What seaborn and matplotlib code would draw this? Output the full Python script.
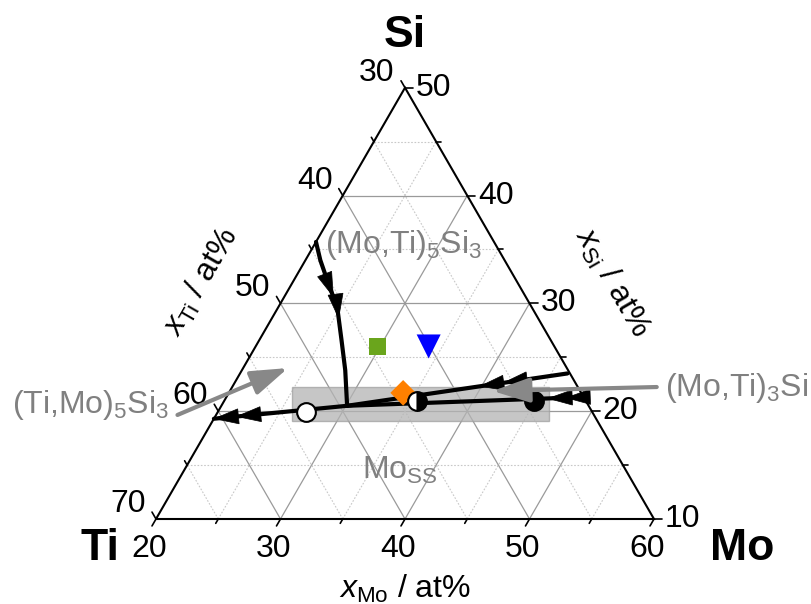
import numpy as np
import matplotlib
matplotlib.use("Agg")
import matplotlib.pyplot as plt
import seaborn as sns
import pandas as pd
from matplotlib.patches import Rectangle, Polygon

# Section of the Mo-Si-Ti system: corners (x_Mo, x_Si) = (20, 10), (60, 10), (20, 50)
MO0, SI0, SPAN = 20.0, 10.0, 40.0

mo_labels = [20, 30, 40, 50, 60]
si_labels = [10, 20, 30, 40, 50]
ti_labels = [30, 40, 50, 60, 70]

# Monovariant lines (x_Mo, x_Si in at%)
trough_mo = [20.0, 21.2, 23.2, 24.7, 26.6, 28.3, 30.1]
trough_si = [35.7, 34.0, 31.5, 29.7, 26.6, 23.8, 20.5]
left_mo = [30.1, 20.0]
left_si = [20.5, 19.3]
upper_mo = [46.3, 30.1]
upper_si = [23.5, 20.5]
lower_mo = [48.6, 30.1]
lower_si = [21.3, 20.5]

# Alloy compositions
alloy_mo = [29.8, 33.9, 34.0]
alloy_si = [26.0, 26.0, 21.7]
alloy_marker = ["s", "v", "D"]
alloy_color = ["#6aa51c", "#0000ff", "#ff8000"]
alloy_size = [160, 300, 170]

# Invariant / phase compositions
open_pt = (27.1, 19.9)
half_pt = (35.5, 20.9)
solid_pt = (44.9, 20.9)

# Shaded Mo_SS band (lower-left and upper-right corner compositions)
band_lo = (26.4, 19.1)
band_hi = (45.5, 22.2)

PX = 12.45  # pixels per at%
W, H = 811, 604
ORIGIN = (156, 519)

sns.set_theme(style="white")
plt.rcParams["font.family"] = ["Liberation Sans", "DejaVu Sans"]
plt.rcParams["text.color"] = "black"
plt.rcParams["mathtext.fontset"] = "custom"
plt.rcParams["mathtext.rm"] = "Liberation Sans"
plt.rcParams["mathtext.it"] = "Liberation Sans:italic"
plt.rcParams["mathtext.bf"] = "Liberation Sans:bold"

S3 = np.sqrt(3) / 2
PT = 0.72  # points per pixel


def cart(mo, si):
    mo = np.asarray(mo, float)
    si = np.asarray(si, float)
    return (mo - MO0) + (si - SI0) / 2, (si - SI0) * S3


fig = plt.figure(figsize=(W / 100, H / 100), dpi=100)
ax = fig.add_axes([0, 0, 1, 1])
ax.set_xlim(-ORIGIN[0] / PX, (W - ORIGIN[0]) / PX)
ax.set_ylim(-(H - ORIGIN[1]) / PX, ORIGIN[1] / PX)
ax.set_aspect("equal")
ax.axis("off")

# grid lines
for v in np.arange(5, 40, 5):
    major = v % 10 == 0
    kw = dict(color="#9a9a9a", lw=0.9, ls="-") if major else dict(color="#c8c8c8", lw=0.8, ls=(0, (1.5, 1.5)))
    mo = MO0 + v
    x, y = cart([mo, mo], [SI0, SI0 + SPAN - v])
    ax.plot(x, y, zorder=1, **kw)
    si = SI0 + v
    x, y = cart([MO0, MO0 + SPAN - v], [si, si])
    ax.plot(x, y, zorder=1, **kw)
    x, y = cart([MO0 + SPAN - v, MO0], [SI0, SI0 + SPAN - v])
    ax.plot(x, y, zorder=1, **kw)

# triangle frame
fx, fy = cart([MO0, MO0 + SPAN, MO0, MO0], [SI0, SI0, SI0 + SPAN, SI0])
ax.plot(fx, fy, color="black", lw=1.5, zorder=3, solid_joinstyle="miter")

# ticks
tick_dirs = {
    "mo": np.array([-0.5, -S3]),
    "si": np.array([1.0, 0.0]),
    "ti": np.array([-0.5, S3]),
}
for v in np.arange(0, 41, 5):
    ln = (8 if v % 10 == 0 else 5) / PX
    for key, p in (("mo", cart(MO0 + v, SI0)),
                   ("si", cart(MO0 + SPAN - v, SI0 + v)),
                   ("ti", cart(MO0, SI0 + SPAN - v))):
        d = tick_dirs[key]
        ax.plot([p[0], p[0] + d[0] * ln], [p[1], p[1] + d[1] * ln], color="black", lw=1.2, zorder=3)

TFS = 23
for v in mo_labels:
    ax.annotate(str(v), cart(v, SI0), xytext=(-7 * PT, -30 * PT), textcoords="offset points",
                ha="center", va="center", fontsize=TFS)
for v in si_labels:
    ax.annotate(str(v), cart(MO0 + SPAN - (v - SI0), v), xytext=(11 * PT, 0), textcoords="offset points",
                ha="left", va="center", fontsize=TFS)
for v in ti_labels:
    si = 100 - v - MO0
    ax.annotate(str(v), cart(MO0, si), xytext=(-28 * PT, 15 * PT), textcoords="offset points",
                ha="center", va="center", fontsize=TFS)

# axis titles
ax.annotate(r"$x_\mathrm{Mo}$ / at%", cart(MO0 + SPAN / 2, SI0), xytext=(0, -70 * PT),
            textcoords="offset points", ha="center", va="center", fontsize=TFS)
ax.annotate(r"$x_\mathrm{Ti}$ / at%", cart(MO0, SI0 + SPAN / 2 + 2), xytext=(-92 * PT, 0),
            textcoords="offset points", ha="center", va="center", fontsize=TFS, rotation=60)
ax.annotate(r"$x_\mathrm{Si}$ / at%", cart(MO0 + SPAN / 2 - 2, SI0 + SPAN / 2 + 2), xytext=(95 * PT, 0),
            textcoords="offset points", ha="center", va="center", fontsize=TFS, rotation=-60)

# corner labels
VFS = 32
ax.annotate("Ti", cart(MO0, SI0), xytext=(-56 * PT, -29 * PT), textcoords="offset points",
            ha="center", va="center", fontsize=VFS, fontweight="bold")
ax.annotate("Mo", cart(MO0 + SPAN, SI0), xytext=(88 * PT, -29 * PT), textcoords="offset points",
            ha="center", va="center", fontsize=VFS, fontweight="bold")
ax.annotate("Si", cart(MO0, SI0 + SPAN), xytext=(0, 52 * PT), textcoords="offset points",
            ha="center", va="center", fontsize=VFS, fontweight="bold")

# shaded band
bx0, by0 = (float(c) for c in cart(*band_lo))
bx1, by1 = (float(c) for c in cart(*band_hi))
ax.add_patch(Rectangle((bx0, by0), bx1 - bx0, by1 - by0, facecolor="#b4b4b4", alpha=0.75,
                       edgecolor="#a0a0a0", lw=1, zorder=2))

# monovariant lines with direction arrowheads
lines = [(trough_mo, trough_si, [4.6, 6.4]),
         (left_mo, left_si, [8.9, 10.7]),
         (upper_mo, upper_si, [5.2, 7.1]),
         (lower_mo, lower_si, [1.3, 2.75])]
HEAD_L, HEAD_W = 24 / PX, 15 / PX
for mo, si, heads in lines:
    x, y = cart(mo, si)
    df = pd.DataFrame({"x": x, "y": y})
    sns.lineplot(data=df, x="x", y="y", sort=False, estimator=None, color="black", lw=3,
                 ax=ax, zorder=5)
    seg = np.hypot(np.diff(x), np.diff(y))
    cum = np.concatenate([[0], np.cumsum(seg)])
    for d in heads:
        i = int(np.clip(np.searchsorted(cum, d) - 1, 0, len(seg) - 1))
        t = (d - cum[i]) / seg[i]
        tip = np.array([x[i] + t * (x[i + 1] - x[i]), y[i] + t * (y[i + 1] - y[i])])
        u = np.array([x[i + 1] - x[i], y[i + 1] - y[i]]) / seg[i]
        n = np.array([-u[1], u[0]])
        base = tip - u * HEAD_L
        tri = [tip, base + n * HEAD_W / 2, base - n * HEAD_W / 2]
        ax.add_patch(Polygon(tri, closed=True, facecolor="black", edgecolor="black", lw=0.5, zorder=6))

# alloy markers
ax_, ay_ = cart(alloy_mo, alloy_si)
adf = pd.DataFrame({"x": ax_, "y": ay_, "k": ["a", "b", "c"]})
sns.scatterplot(data=adf, x="x", y="y", hue="k", style="k", size="k",
                markers=dict(zip("abc", alloy_marker)), palette=dict(zip("abc", alloy_color)),
                sizes=dict(zip("abc", alloy_size)), linewidth=0, legend=False, ax=ax, zorder=7)

# phase compositions
px_, py_ = cart(*open_pt)
ax.plot(px_, py_, "o", ms=13.5, mfc="white", mec="black", mew=1.5, zorder=8)
px_, py_ = cart(*half_pt)
ax.plot(px_, py_, "o", ms=13.5, fillstyle="right", mfc="black", mfcalt="white", mec="black", mew=1.5, zorder=8)
px_, py_ = cart(*solid_pt)
ax.plot(px_, py_, "o", ms=13.5, mfc="black", mec="black", mew=1.5, zorder=8)

# phase labels
GRAY = "#808080"
PFS = 23
ax.text(*cart(20.9, 35.4), r"(Mo,Ti)$_5$Si$_3$", color=GRAY, fontsize=PFS, ha="left", va="center", zorder=9)
ax.text(*cart(3.1, 20.6), r"(Ti,Mo)$_5$Si$_3$", color=GRAY, fontsize=PFS, ha="left", va="center", zorder=9)
ax.text(*cart(54.8, 22.15), r"(Mo,Ti)$_3$Si", color=GRAY, fontsize=PFS, ha="left", va="center", zorder=9)
ax.text(*cart(34.3, 14.5), r"Mo$_\mathrm{SS}$", color=GRAY, fontsize=PFS, ha="left", va="center", zorder=9)

arrow_kw = dict(arrowstyle="-|>,head_length=0.9,head_width=0.3", color="#888888", lw=3,
                mutation_scale=25, shrinkA=0, shrinkB=0)
ax.annotate("", xy=cart(23.6, 24.0), xytext=cart(16.9, 19.65), arrowprops=arrow_kw, zorder=9)
ax.annotate("", xy=cart(41.1, 21.87), xytext=cart(54.1, 22.24), arrowprops=arrow_kw, zorder=9)

fig.savefig("out.png", dpi=100)
